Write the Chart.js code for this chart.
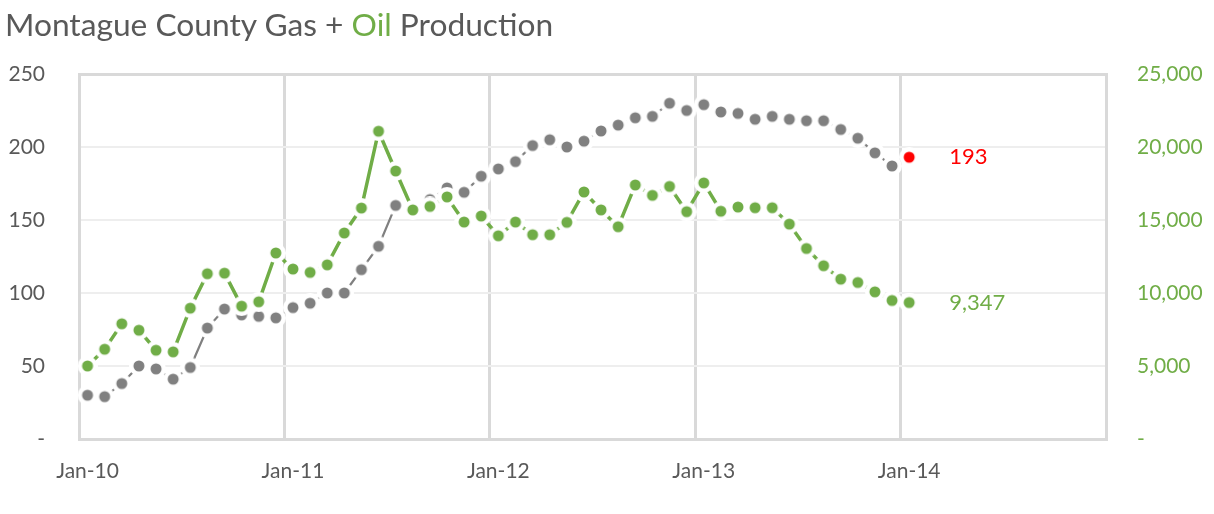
<!DOCTYPE html>
<html>
<head>
<meta charset="utf-8">
<title>Montague County Gas + Oil Production</title>
<script src="https://cdn.jsdelivr.net/npm/chart.js@4.4.1/dist/chart.umd.min.js"></script>
<style>
    html, body { margin: 0; padding: 0; background: #fff; }
    #wrap { position: relative; width: 1214px; height: 514px; }
    #title {
        position: absolute; left: 5px; top: 5px;
        font-family: Lato, sans-serif; font-size: 31.7px;
        color: #595959; white-space: nowrap;
    }
    #title .oil { color: #70AD47; }
</style>
</head>
<body>
<div id="wrap">
    <canvas id="chart" width="1214" height="514"></canvas>
    <div id="title">Montague County Gas + <span class="oil">Oil</span> Production</div>
</div>
<script>
// Monthly categories Jan-10 .. Dec-14 (axis runs one year past the data)
const monthNames = ["Jan", "Feb", "Mar", "Apr", "May", "Jun", "Jul", "Aug", "Sep", "Oct", "Nov", "Dec"];
const years = ["10", "11", "12", "13", "14"];
const yearTicks = ["Jan-10", "Jan-11", "Jan-12", "Jan-13", "Jan-14"];

// Gas (left axis), Jan-10 .. Jan-14
const gasValues = [
    30, 29, 38, 50, 48, 41, 49, 76, 89, 85, 84, 83,
    90, 93, 100, 100, 116, 132, 160, 158, 164, 172, 169, 180,
    185, 190, 201, 205, 200, 204, 211, 215, 220, 221, 230, 225,
    229, 224, 223, 219, 221, 219, 218, 218, 212, 206, 196, 187,
    193
];

// Oil (right axis), Jan-10 .. Jan-14
const oilValues = [
    5000, 6150, 7890, 7450, 6080, 5970, 8960, 11320, 11360, 9100, 9400, 12740,
    11640, 11410, 11930, 14110, 15820, 21080, 18360, 15690, 15930, 16580, 14860, 15270,
    13920, 14860, 13990, 13990, 14840, 16920, 15690, 14540, 17400, 16690, 17300, 15570,
    17540, 15600, 15890, 15840, 15840, 14720, 13050, 11870, 10950, 10720, 10080, 9490,
    9347
];

const GRAY = "#808080";
const GREEN = "#70AD47";
const RED = "#FF0000";
const AXIS_TEXT = "#595959";
const FRAME = "#d9d9d9";

const categories = [];
years.forEach(y => monthNames.forEach(m => categories.push(m + "-" + y)));

// Marker with a white halo, like Excel's thick white marker border
function makeDot(color, radius, halo) {
    const c = document.createElement("canvas");
    c.width = c.height = halo * 2;
    const g = c.getContext("2d");
    g.fillStyle = "#ffffff";
    g.beginPath();
    g.arc(halo, halo, halo, 0, Math.PI * 2);
    g.fill();
    g.fillStyle = color;
    g.beginPath();
    g.arc(halo, halo, radius, 0, Math.PI * 2);
    g.fill();
    return c;
}

const grayDot = makeDot(GRAY, 5.5, 10);
const greenDot = makeDot(GREEN, 5.5, 10);
const redDot = makeDot(RED, 5.5, 10);

// Value label beside the last point of each series
const endLabels = {
    id: "endLabels",
    afterDatasetsDraw(chart) {
        const ctx = chart.ctx;
        ctx.save();
        ctx.font = "22px Lato";
        ctx.textAlign = "left";
        ctx.textBaseline = "middle";
        chart.data.datasets.forEach((ds, i) => {
            const meta = chart.getDatasetMeta(i);
            const last = meta.data[meta.data.length - 1];
            const value = ds.data[ds.data.length - 1];
            ctx.fillStyle = ds.labelColor;
            ctx.fillText(value.toLocaleString("en-US"), last.x + 40, last.y);
        });
        ctx.restore();
    }
};

const tickFont = { family: "Lato", size: 21 };

new Chart(document.getElementById("chart").getContext("2d"), {
    type: "line",
    data: {
        labels: categories,
        datasets: [
            {
                label: "Oil",
                data: oilValues,
                yAxisID: "yOil",
                borderColor: GREEN,
                borderWidth: 3.5,
                pointStyle: greenDot,
                pointRadius: 5,
                labelColor: GREEN,
                order: 0,
            },
            {
                label: "Gas",
                data: gasValues,
                yAxisID: "yGas",
                borderColor: GRAY,
                borderWidth: 2.25,
                pointStyle: ctx => (ctx.dataIndex === gasValues.length - 1 ? redDot : grayDot),
                pointRadius: 5,
                labelColor: RED,
                order: 1,
            },
        ],
    },
    options: {
        responsive: false,
        animation: false,
        layout: { padding: { top: 74, left: 0, right: 0, bottom: 0 } },
        plugins: {
            legend: { display: false },
            tooltip: { enabled: false },
            title: { display: false },
        },
        scales: {
            x: {
                type: "category",
                offset: true,
                grid: {
                    offset: true,
                    drawTicks: false,
                    color: ctx => (ctx.index % 12 === 0 ? FRAME : "rgba(0,0,0,0)"),
                    lineWidth: 3,
                },
                border: { display: true, color: FRAME, width: 3 },
                ticks: {
                    autoSkip: false,
                    maxRotation: 0,
                    padding: 20,
                    color: AXIS_TEXT,
                    font: tickFont,
                    callback: function (value, index) {
                        const label = this.getLabelForValue(value);
                        return yearTicks.includes(label) ? label : "";
                    },
                },
                afterFit: scale => { scale.height = 75; },
            },
            yGas: {
                position: "left",
                min: 0,
                max: 250,
                grid: {
                    drawTicks: false,
                    color: ctx => {
                        if (!ctx.tick) return "#eeeeee";
                        if (ctx.tick.value === 250) return FRAME;
                        if (ctx.tick.value === 0) return "rgba(0,0,0,0)";
                        return "#eeeeee";
                    },
                    lineWidth: ctx => (ctx.tick && ctx.tick.value === 250 ? 3 : 2),
                },
                border: { display: true, color: FRAME, width: 3 },
                ticks: {
                    stepSize: 50,
                    padding: 34,
                    color: AXIS_TEXT,
                    font: tickFont,
                    callback: v => (v === 0 ? "-" : v),
                },
                afterFit: scale => { scale.width = 79; },
            },
            yOil: {
                position: "right",
                min: 0,
                max: 25000,
                grid: { drawOnChartArea: false, drawTicks: false },
                border: { display: true, color: FRAME, width: 3 },
                ticks: {
                    stepSize: 5000,
                    padding: 31,
                    color: GREEN,
                    font: tickFont,
                    callback: v => (v === 0 ? "-" : v.toLocaleString("en-US")),
                },
                afterFit: scale => { scale.width = 108; },
            },
        },
    },
    plugins: [endLabels],
});
</script>
</body>
</html>
